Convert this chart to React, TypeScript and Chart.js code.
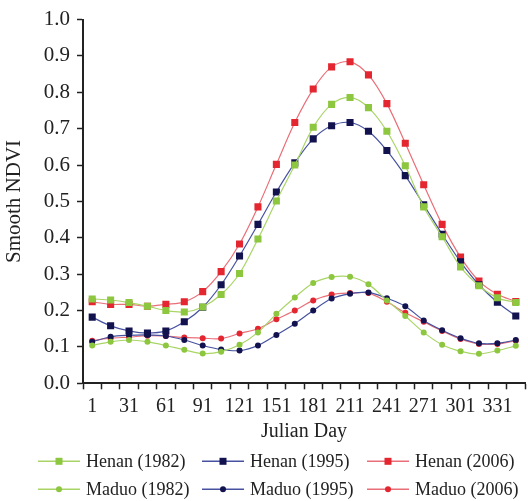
import React, { useEffect, useRef } from "react";
import { Chart, registerables } from "chart.js";

Chart.register(...registerables);

// Julian day of each 15-day composite
const days = [1, 16, 31, 46, 61, 76, 91, 106, 121, 136, 151, 166, 181, 196, 211, 226, 241, 256, 271, 286, 301, 316, 331, 346];

const henan1982 = [0.232, 0.229, 0.222, 0.212, 0.2, 0.196, 0.21, 0.244, 0.302, 0.397, 0.501, 0.6, 0.704, 0.767, 0.786, 0.758, 0.693, 0.598, 0.485, 0.403, 0.32, 0.268, 0.235, 0.222];
const henan1995 = [0.182, 0.158, 0.144, 0.138, 0.144, 0.169, 0.209, 0.271, 0.35, 0.437, 0.526, 0.606, 0.672, 0.708, 0.717, 0.693, 0.64, 0.571, 0.491, 0.41, 0.334, 0.271, 0.223, 0.185];
const henan2006 = [0.224, 0.217, 0.217, 0.212, 0.217, 0.224, 0.252, 0.307, 0.383, 0.485, 0.602, 0.717, 0.809, 0.87, 0.884, 0.848, 0.769, 0.66, 0.546, 0.437, 0.347, 0.281, 0.245, 0.225];
const maduo1982 = [0.104, 0.114, 0.119, 0.114, 0.104, 0.092, 0.082, 0.087, 0.106, 0.14, 0.191, 0.236, 0.276, 0.292, 0.293, 0.272, 0.228, 0.185, 0.14, 0.106, 0.088, 0.081, 0.09, 0.103];
const maduo1995 = [0.114, 0.128, 0.132, 0.133, 0.13, 0.119, 0.104, 0.093, 0.09, 0.104, 0.133, 0.164, 0.2, 0.233, 0.246, 0.25, 0.234, 0.212, 0.173, 0.146, 0.124, 0.11, 0.11, 0.119];
const maduo2006 = [0.117, 0.124, 0.127, 0.131, 0.13, 0.126, 0.124, 0.123, 0.137, 0.15, 0.176, 0.2, 0.228, 0.244, 0.248, 0.248, 0.224, 0.194, 0.169, 0.144, 0.122, 0.108, 0.108, 0.117];

const seriesNames = ["Henan (1982)", "Henan (1995)", "Henan (2006)", "Maduo (1982)", "Maduo (1995)", "Maduo (2006)"];
const seriesData = [henan1982, henan1995, henan2006, maduo1982, maduo1995, maduo2006];

const GREEN = "#8DC63F";
const GREEN_LINE = "#A9D566";
const NAVY = "#12124F";
const NAVY_LINE = "#4652A0";
const RED = "#E3262F";
const RED_LINE = "#EA6E78";

const markerColors = [GREEN, NAVY, RED, GREEN, NAVY, RED];
const lineColors = [GREEN_LINE, NAVY_LINE, RED_LINE, GREEN_LINE, NAVY_LINE, RED_LINE];
const markerStyles = ["rect", "rect", "rect", "circle", "circle", "circle"];

const FONT = "'Liberation Serif', 'Times New Roman', serif";
const TEXT = "#222222";

const legendPlugin = {
  id: "lineMarkerLegend",
  afterDraw(chart: any) {
    const ctx = chart.ctx as CanvasRenderingContext2D;
    const area = chart.chartArea;
    const colX = [38, 202, 367];
    const rowY = [area.bottom + 78, area.bottom + 106];
    const lineLen = 42;
    ctx.save();
    chart.data.datasets.forEach((ds: any, i: number) => {
      const x0 = colX[i % 3];
      const y = rowY[Math.floor(i / 3)];
      ctx.strokeStyle = ds.borderColor;
      ctx.lineWidth = 1.5;
      ctx.beginPath();
      ctx.moveTo(x0, y);
      ctx.lineTo(x0 + lineLen, y);
      ctx.stroke();
      ctx.fillStyle = ds.pointBackgroundColor;
      const cx = x0 + lineLen / 2;
      if (ds.pointStyle === "rect") {
        ctx.fillRect(cx - 3.5, y - 3.5, 7, 7);
      } else {
        ctx.beginPath();
        ctx.arc(cx, y, 3, 0, Math.PI * 2);
        ctx.fill();
      }
      ctx.fillStyle = TEXT;
      ctx.font = `18px ${FONT}`;
      ctx.textAlign = "left";
      ctx.textBaseline = "middle";
      ctx.fillText(ds.label, x0 + lineLen + 6, y + 1);
    });
    ctx.restore();
  },
};

export default function App() {
  const canvasRef = useRef<HTMLCanvasElement | null>(null);

  useEffect(() => {
    if (!canvasRef.current) return;
    const labels = days.map((d) => String(d));
    const chart = new Chart(canvasRef.current, {
      type: "line",
      data: {
        labels,
        datasets: seriesData.map((vals, i) => ({
          label: seriesNames[i],
          data: vals,
          borderColor: lineColors[i],
          backgroundColor: markerColors[i],
          pointBackgroundColor: markerColors[i],
          pointBorderColor: markerColors[i],
          pointBorderWidth: 0,
          pointStyle: markerStyles[i] as any,
          pointRadius: markerStyles[i] === "rect" ? 5 : 3,
          borderWidth: 1.2,
          tension: 0.33,
          fill: false,
        })),
      },
      options: {
        responsive: false,
        animation: false,
        devicePixelRatio: 1,
        layout: { padding: { top: 13, right: 0, bottom: 57, left: 0 } },
        plugins: {
          legend: { display: false },
          tooltip: { enabled: false },
        },
        scales: {
          x: {
            type: "category",
            offset: true,
            grid: {
              display: true,
              drawOnChartArea: false,
              drawTicks: true,
              tickLength: 6,
              tickColor: TEXT,
              tickWidth: 1.5,
              offset: true,
            },
            border: { display: true, color: TEXT, width: 2 },
            ticks: {
              autoSkip: false,
              maxRotation: 0,
              minRotation: 0,
              padding: 5,
              color: TEXT,
              font: { family: FONT, size: 20 },
              callback: (_v: any, i: number) => (i % 2 === 0 ? labels[i] : ""),
            },
            title: {
              display: true,
              text: "Julian Day",
              color: TEXT,
              font: { family: FONT, size: 20 },
              padding: { top: 0, bottom: 0 },
            },
            afterFit: (s: any) => {
              s.height = 60.7;
            },
          },
          y: {
            min: 0,
            max: 1,
            grid: {
              display: true,
              drawOnChartArea: false,
              drawTicks: true,
              tickLength: 6,
              tickColor: TEXT,
              tickWidth: 1.5,
            },
            border: { display: true, color: TEXT, width: 2 },
            ticks: {
              stepSize: 0.1,
              padding: 7,
              color: TEXT,
              font: { family: FONT, size: 21 },
              callback: (v: any) => Number(v).toFixed(1),
            },
            title: {
              display: true,
              text: "Smooth NDVI",
              color: TEXT,
              font: { family: FONT, size: 21 },
              padding: { top: 2, bottom: 0 },
            },
            afterFit: (s: any) => {
              s.width = 83;
            },
          },
        },
      },
      plugins: [legendPlugin],
    });
    return () => chart.destroy();
  }, []);

  return (
    <div style={{ position: "absolute", left: 0, top: 0, width: 528, height: 501, overflow: "hidden", background: "#fff" }}>
      <canvas ref={canvasRef} width={530} height={501} style={{ display: "block" }} />
    </div>
  );
}
